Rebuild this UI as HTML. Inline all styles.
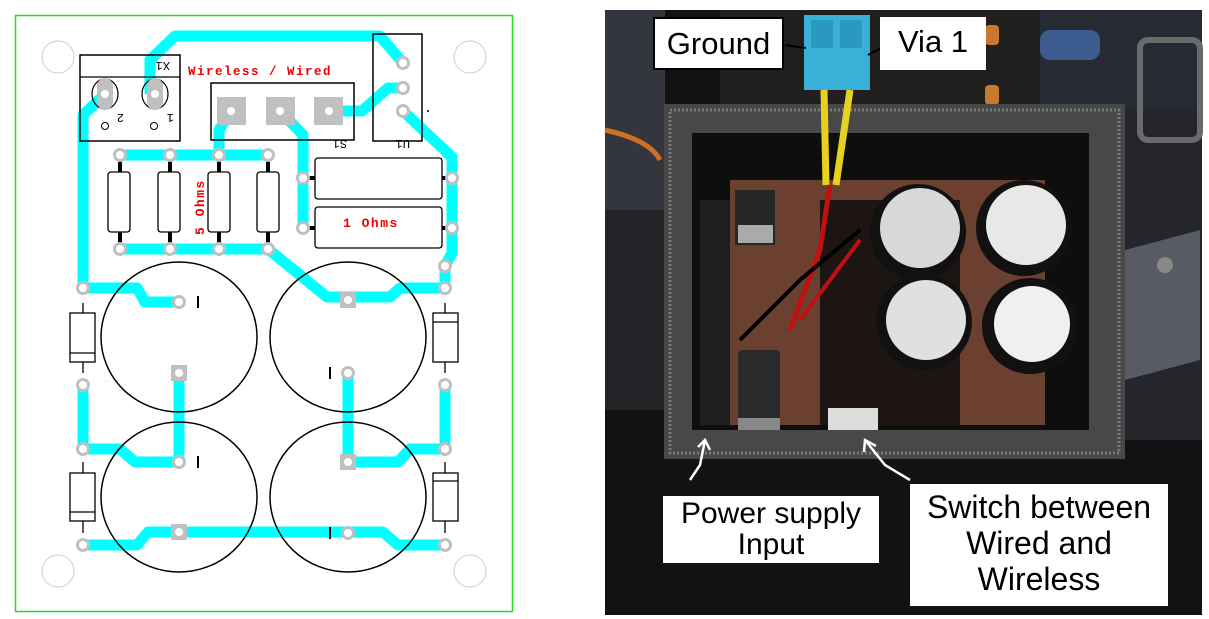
<!DOCTYPE html>
<html><head><meta charset="utf-8"><style>
html,body{margin:0;padding:0;background:#fff;}
body{width:1209px;height:619px;overflow:hidden;position:relative;}
svg{position:absolute;left:0;top:0;}
.lbl{position:absolute;background:#fff;border:2px solid #000;font-family:"Liberation Sans",sans-serif;color:#000;text-align:center;box-sizing:border-box;}
</style></head><body>
<svg width="1209" height="619" viewBox="0 0 1209 619" xmlns="http://www.w3.org/2000/svg">
<defs>
<pattern id="dots" width="12.5" height="12.5" patternUnits="userSpaceOnUse"><circle cx="6" cy="6" r="0.5" fill="#e4e4e4"/></pattern>
</defs>
<rect x="15.5" y="15.5" width="497" height="596" fill="#fff" stroke="#22dd22" stroke-width="1.5"/>
<rect x="35" y="35" width="460" height="560" fill="url(#dots)"/>
<g fill="none" stroke="#ccc" stroke-width="1">
<circle cx="58" cy="57" r="16"/><circle cx="470" cy="57" r="16"/>
<circle cx="58" cy="571" r="16"/><circle cx="470" cy="571" r="16"/>
</g>
<g fill="none" stroke="#00ffff" stroke-width="11" stroke-linejoin="round">
<polyline points="150,94 150,60 175,36 380,36 403,63"/>
<polyline points="105,94 83,115 83,288 137,288 145,302 179,302"/>
<polyline points="329,111 362,111 388,88 403,88"/>
<polyline points="403,111 452,157 452,253 445,266 445,290"/>
<polyline points="120,155 268,155"/>
<polyline points="120,249 268,249"/>
<polyline points="231,111 219,130 219,155"/>
<polyline points="280,111 303,135 303,228"/>
<polyline points="268,249 327,297 390,297 400,288 445,288"/>
<polyline points="83,385 83,449 120,449 135,462 179,462"/>
<polyline points="179,373 179,462"/>
<polyline points="348,373 348,462 398,462 410,449 445,449"/>
<polyline points="445,385 445,449"/>
<polyline points="83,545 137,545 148,532 383,532 398,545 445,545"/>
</g>
<rect x="80" y="55" width="100" height="86" fill="none" stroke="#000" stroke-width="1.5"/>
<line x1="80" y1="77" x2="180" y2="77" stroke="#000" stroke-width="1.2"/>
<g fill="none" stroke="#000" stroke-width="1.2"><ellipse cx="105" cy="94" rx="13" ry="15"/><ellipse cx="155" cy="94" rx="13" ry="15"/></g>
<g fill="#c0c0c0"><rect x="97" y="78" width="16" height="32" rx="8"/><rect x="147" y="78" width="16" height="32" rx="8"/></g>
<g fill="#fff"><circle cx="105" cy="94" r="4"/><circle cx="155" cy="94" r="4"/></g>
<g fill="none" stroke="#000" stroke-width="1"><circle cx="105" cy="126" r="3.5"/><circle cx="154" cy="126" r="3.5"/></g>
<g font-family="Liberation Mono,monospace" font-size="12" fill="#000">
<text x="116" y="122" transform="rotate(180 120 118)">2</text>
<text x="166" y="122" transform="rotate(180 170 118)">1</text>
<text x="150" y="70" transform="rotate(180 160 66)">X1</text>
<text x="327" y="148" transform="rotate(180 337 144)">S1</text>
<text x="390" y="148" transform="rotate(180 400 144)">U1</text>
</g>
<text x="188" y="75" font-family="Liberation Mono,monospace" font-weight="bold" font-size="12.5" fill="#ee0000" letter-spacing="1.5">Wireless / Wired</text>
<rect x="211" y="83" width="143" height="57" fill="none" stroke="#000" stroke-width="1.5"/>
<g fill="#c0c0c0"><rect x="217" y="97" width="29" height="28"/><rect x="266" y="97" width="29" height="28"/><rect x="314" y="97" width="29" height="28"/></g>
<g fill="#fff"><circle cx="231" cy="111" r="4"/><circle cx="280" cy="111" r="4"/><circle cx="329" cy="111" r="4"/></g>
<rect x="373" y="34" width="49" height="107" fill="none" stroke="#000" stroke-width="1.5"/>
<circle cx="428" cy="111" r="1" fill="#000"/>
<g stroke="#000" stroke-width="4"><line x1="120" y1="160" x2="120" y2="245"/><line x1="170" y1="160" x2="170" y2="245"/><line x1="219" y1="160" x2="219" y2="245"/><line x1="268" y1="160" x2="268" y2="245"/></g>
<g fill="#fff" stroke="#000" stroke-width="1.3">
<rect x="108" y="172" width="22" height="60" rx="3"/><rect x="158" y="172" width="22" height="60" rx="3"/><rect x="208" y="172" width="22" height="60" rx="3"/><rect x="257" y="172" width="22" height="60" rx="3"/>
</g>
<text transform="translate(204 235) rotate(-90)" font-family="Liberation Mono,monospace" font-weight="bold" font-size="13" fill="#ee0000" letter-spacing="1.5">5 Ohms</text>
<g stroke="#000" stroke-width="4"><line x1="308" y1="178" x2="447" y2="178"/><line x1="308" y1="228" x2="447" y2="228"/></g>
<g fill="#fff" stroke="#000" stroke-width="1.3">
<rect x="315" y="158" width="127" height="41" rx="3"/><rect x="315" y="207" width="127" height="41" rx="3"/>
</g>
<text x="343" y="227" font-family="Liberation Mono,monospace" font-weight="bold" font-size="13" fill="#ee0000" letter-spacing="1.5">1 Ohms</text>
<g fill="none" stroke="#000" stroke-width="1.5">
<ellipse cx="179" cy="337" rx="78" ry="75"/><ellipse cx="348" cy="337" rx="78" ry="75"/>
<ellipse cx="179" cy="497" rx="78" ry="75"/><ellipse cx="348" cy="497" rx="78" ry="75"/>
</g>
<g stroke="#000" stroke-width="2">
<line x1="198" y1="296" x2="198" y2="308"/><line x1="330" y1="367" x2="330" y2="379"/>
<line x1="198" y1="456" x2="198" y2="468"/><line x1="330" y1="527" x2="330" y2="539"/>
</g>
<g fill="#fff" stroke="#000" stroke-width="1.3">
<rect x="70" y="313" width="25" height="49"/><rect x="70" y="473" width="25" height="48"/>
<rect x="433" y="313" width="25" height="49"/><rect x="433" y="473" width="25" height="48"/>
</g>
<g stroke="#000" stroke-width="1.3">
<line x1="70" y1="353" x2="95" y2="353"/><line x1="70" y1="512" x2="95" y2="512"/>
<line x1="433" y1="322" x2="458" y2="322"/><line x1="433" y1="481" x2="458" y2="481"/>
<line x1="83" y1="303" x2="83" y2="313"/><line x1="83" y1="362" x2="83" y2="373"/>
<line x1="83" y1="462" x2="83" y2="473"/><line x1="83" y1="521" x2="83" y2="533"/>
<line x1="445" y1="303" x2="445" y2="313"/><line x1="445" y1="362" x2="445" y2="373"/>
<line x1="445" y1="462" x2="445" y2="473"/><line x1="445" y1="521" x2="445" y2="533"/>
</g>
<g fill="#fff" stroke="#c0c0c0" stroke-width="3">
<circle cx="403" cy="63" r="5.5"/><circle cx="403" cy="88" r="5.5"/><circle cx="403" cy="111" r="5.5"/>
<circle cx="120" cy="155" r="5.5"/><circle cx="170" cy="155" r="5.5"/><circle cx="219" cy="155" r="5.5"/><circle cx="268" cy="155" r="5.5"/>
<circle cx="120" cy="249" r="5.5"/><circle cx="170" cy="249" r="5.5"/><circle cx="219" cy="249" r="5.5"/><circle cx="268" cy="249" r="5.5"/>
<circle cx="303" cy="178" r="5.5"/><circle cx="303" cy="228" r="5.5"/><circle cx="452" cy="178" r="5.5"/><circle cx="452" cy="228" r="5.5"/>
<circle cx="445" cy="266" r="5.5"/><circle cx="445" cy="288" r="5.5"/><circle cx="83" cy="288" r="5.5"/>
<circle cx="179" cy="302" r="5.5"/><circle cx="348" cy="373" r="5.5"/><circle cx="179" cy="462" r="5.5"/><circle cx="348" cy="533" r="5.5"/>
<circle cx="83" cy="385" r="5.5"/><circle cx="83" cy="449" r="5.5"/><circle cx="83" cy="545" r="5.5"/>
<circle cx="445" cy="385" r="5.5"/><circle cx="445" cy="449" r="5.5"/><circle cx="445" cy="545" r="5.5"/>
</g>
<g fill="#c0c0c0"><rect x="340" y="292" width="16" height="16"/><rect x="171" y="365" width="16" height="16"/><rect x="340" y="454" width="16" height="16"/><rect x="171" y="524" width="16" height="16"/></g>
<g fill="#fff"><circle cx="348" cy="300" r="4"/><circle cx="179" cy="373" r="4"/><circle cx="348" cy="462" r="4"/><circle cx="179" cy="532" r="4"/></g>

<!-- PHOTO -->
<rect x="605" y="10" width="597" height="605" fill="#121212"/>
<rect x="605" y="10" width="60" height="200" fill="#34363d"/>
<rect x="605" y="210" width="60" height="200" fill="#222327"/>
<rect x="720" y="10" width="330" height="95" fill="#201f1e"/>
<rect x="1040" y="10" width="162" height="100" fill="#262a33"/>
<rect x="1120" y="110" width="82" height="330" fill="#25262b"/>
<rect x="1140" y="40" width="60" height="100" rx="8" fill="none" stroke="#6a6a6a" stroke-width="6"/>
<polygon points="1125,250 1200,230 1200,360 1125,380" fill="#585b63"/>
<circle cx="1165" cy="265" r="8" fill="#888"/>
<rect x="985" y="25" width="14" height="20" rx="4" fill="#c87830"/><rect x="985" y="85" width="14" height="20" rx="4" fill="#c87830"/>
<rect x="1040" y="30" width="60" height="30" rx="10" fill="#3c5c90"/>
<path d="M605 130 Q650 140 660 160" stroke="#d07020" stroke-width="5" fill="none"/>
<rect x="664" y="104" width="461" height="355" fill="#484848"/>
<rect x="670" y="110" width="449" height="343" fill="none" stroke="#7a7a7a" stroke-width="3" stroke-dasharray="2 2"/>
<rect x="692" y="133" width="397" height="297" fill="#0e0e0e"/>
<rect x="730" y="180" width="315" height="245" fill="#6b4030"/>
<rect x="820" y="200" width="140" height="225" fill="#1c1512"/>
<rect x="700" y="200" width="30" height="225" fill="#1e1e1e"/>
<rect x="735" y="190" width="40" height="55" fill="#262626"/>
<rect x="738" y="225" width="35" height="18" fill="#aaa"/>
<rect x="738" y="350" width="42" height="80" rx="4" fill="#2a2a2a"/>
<rect x="738" y="418" width="42" height="12" fill="#888"/>
<rect x="828" y="408" width="50" height="22" fill="#ddd"/>
<g>
<circle cx="918" cy="232" r="48" fill="#111"/><circle cx="1024" cy="228" r="48" fill="#111"/>
<circle cx="924" cy="322" r="48" fill="#111"/><circle cx="1030" cy="326" r="48" fill="#111"/>
<circle cx="920" cy="228" r="40" fill="#d8d8d8"/><circle cx="1026" cy="225" r="40" fill="#e8e8e8"/>
<circle cx="926" cy="320" r="40" fill="#e0e0e0"/><circle cx="1032" cy="324" r="38" fill="#f0f0f0"/>
</g>
<path d="M824 90 L826 185" stroke="#e8d020" stroke-width="7" fill="none"/>
<path d="M850 90 L836 185" stroke="#e8d020" stroke-width="7" fill="none"/>
<path d="M830 185 L820 250 L790 330" stroke="#c01010" stroke-width="5" fill="none"/>
<path d="M860 230 L800 280 L740 340" stroke="#000" stroke-width="4" fill="none"/>
<path d="M860 240 L800 320" stroke="#c01010" stroke-width="4" fill="none"/>
<rect x="804" y="15" width="66" height="75" fill="#38b0d8"/>
<rect x="811" y="20" width="22" height="28" fill="#2a98c0"/><rect x="840" y="20" width="22" height="28" fill="#2a98c0"/>
<g stroke="#fff" stroke-width="2.5" fill="none">
<path d="M705 440 L700 465 L690 480"/><path d="M698 447 L705 440 L710 450"/>
<path d="M865 440 L885 465 L910 480"/><path d="M864 452 L865 440 L876 446"/>
</g>
<path d="M785 45 L806 48" stroke="#000" stroke-width="2"/>
<path d="M868 55 L885 46" stroke="#000" stroke-width="2"/>
</svg>
<div class="lbl" style="left:653px;top:17px;width:131px;height:53px;font-size:31px;line-height:50px;">Ground</div>
<div class="lbl" style="left:880px;top:17px;width:106px;height:53px;font-size:31px;line-height:50px;border:none;">Via 1</div>
<div class="lbl" style="left:663px;top:496px;width:216px;height:67px;font-size:30px;line-height:31px;padding-top:2px;border:none;">Power supply<br>Input</div>
<div class="lbl" style="left:910px;top:484px;width:258px;height:122px;font-size:32px;line-height:36px;padding-top:5px;border:none;">Switch between<br>Wired and<br>Wireless</div>
</body></html>
